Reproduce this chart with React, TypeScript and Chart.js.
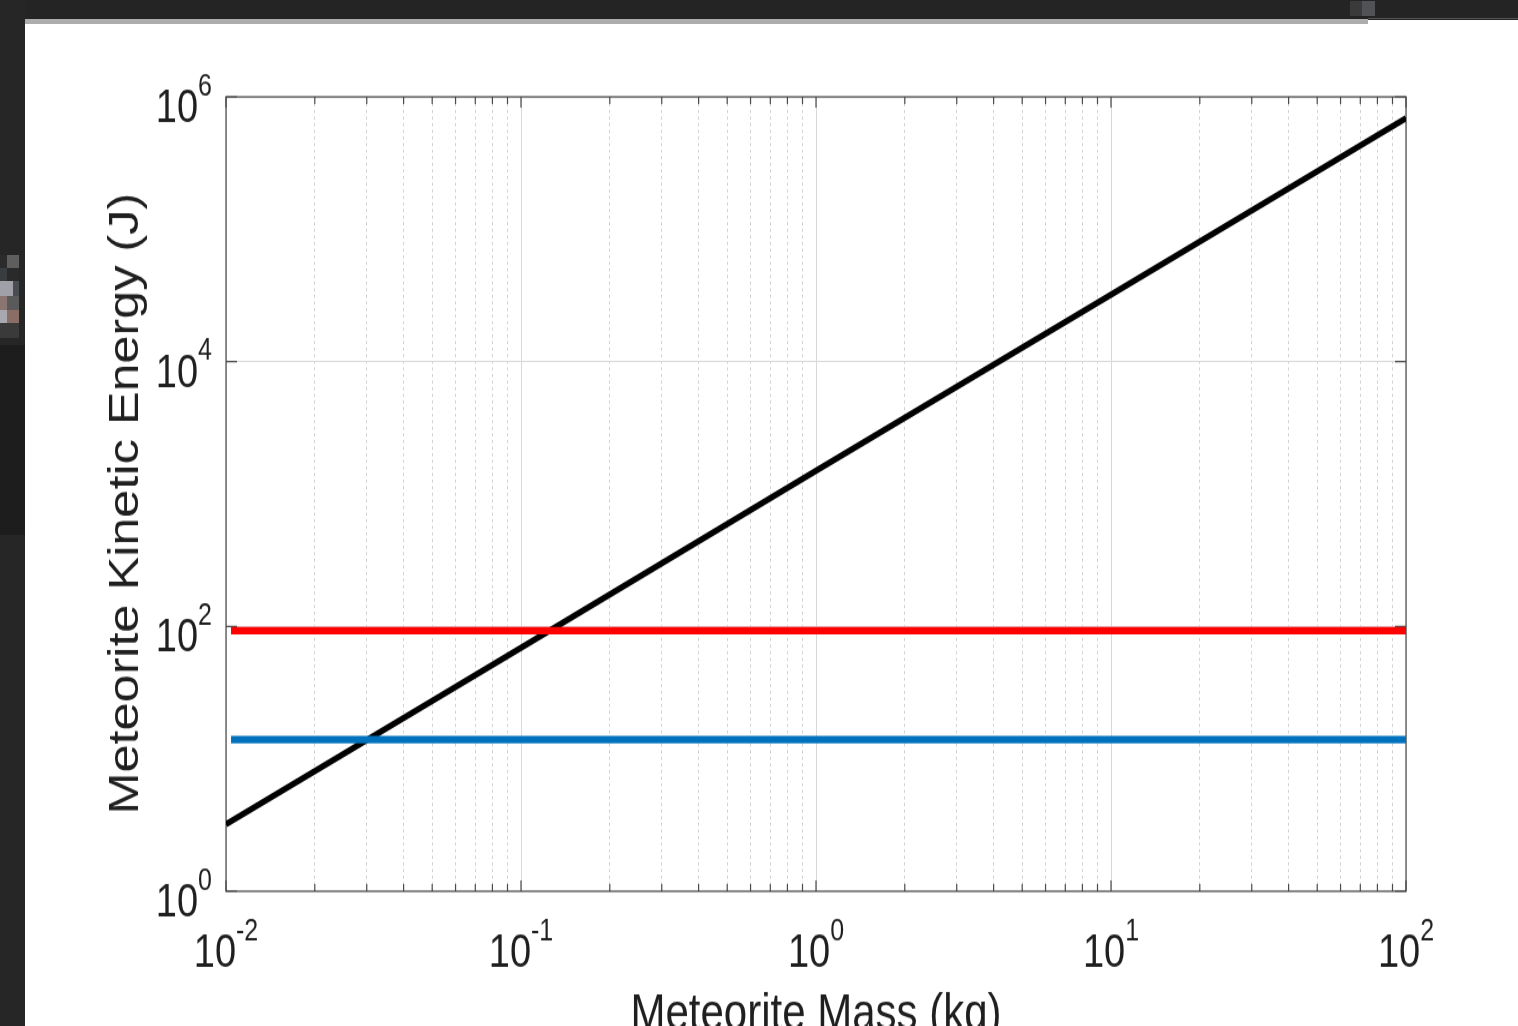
import React, { useEffect, useRef } from 'react';
import { Chart, registerables } from 'chart.js';

Chart.register(...registerables);

// ---- data ----
const massLine = [0.01, 0.1, 1, 10, 100];
const kineticEnergy = [3.2, 69, 1500, 32000, 690000];
const thresholdMass = [0.0104, 100];
const redThreshold = [93, 93];
const blueThreshold = [14, 14];

// ---- axis ticks ----
const xMajorTicks = [0.01, 0.1, 1, 10, 100];
const xMinorMultipliers = [2, 3, 4, 5, 6, 7, 8, 9];
const xTickExponents = ['-2', '-1', '0', '1', '2'];
const yMajorTicks = [1, 100, 10000, 1000000];
const yTickExponents = ['0', '2', '4', '6'];
const xTitle = 'Meteorite Mass (kg)';
const yTitle = 'Meteorite Kinetic Energy (J)';

const xAllTicks: number[] = [...xMajorTicks];
xMajorTicks.slice(0, -1).forEach((m) => xMinorMultipliers.forEach((k) => xAllTicks.push(m * k)));
xAllTicks.sort((a, b) => a - b);

const isXMajor = (v: number) => xMajorTicks.some((m) => Math.abs(v / m - 1) < 1e-6);

const STRETCH = 1.2;
const CW = 1493;
const CH = 838;
const FONT = "'Liberation Sans', Arial, Helvetica, sans-serif";
const TEXT = '#1f1f1f';
const AXIS = '#4a4a4a';

const matlabAxes = {
  id: 'matlabAxes',
  beforeDatasetsDraw(chart: any) {
    const { ctx, chartArea: a, scales } = chart;
    const xs = scales.x;
    const ys = scales.y;
    ctx.save();
    ctx.strokeStyle = AXIS;
    ctx.lineWidth = 1.2;
    ctx.beginPath();
    xAllTicks.forEach((v) => {
      const px = xs.getPixelForValue(v);
      const len = isXMajor(v) ? 9 : 6;
      ctx.moveTo(px, a.bottom);
      ctx.lineTo(px, a.bottom - len);
      ctx.moveTo(px, a.top);
      ctx.lineTo(px, a.top + len);
    });
    yMajorTicks.forEach((v) => {
      const py = ys.getPixelForValue(v);
      ctx.moveTo(a.left, py);
      ctx.lineTo(a.left + 11, py);
      ctx.moveTo(a.right, py);
      ctx.lineTo(a.right - 11, py);
    });
    ctx.stroke();
    ctx.strokeRect(a.left, a.top, a.right - a.left, a.bottom - a.top);
    ctx.restore();
  },
  afterDraw(chart: any) {
    const { ctx, chartArea: a, scales } = chart;
    const xs = scales.x;
    const ys = scales.y;
    const mainFont = `38px ${FONT}`;
    const expFont = `25px ${FONT}`;
    ctx.save();
    ctx.fillStyle = TEXT;
    ctx.textAlign = 'left';
    ctx.textBaseline = 'alphabetic';

    // y tick labels
    yMajorTicks.forEach((v, i) => {
      const py = ys.getPixelForValue(v);
      const base = py + 21;
      ctx.font = expFont;
      const we = ctx.measureText(yTickExponents[i]).width;
      ctx.font = mainFont;
      const wm = ctx.measureText('10').width;
      const right = a.left - 14;
      ctx.fillText('10', right - we - wm, base);
      ctx.font = expFont;
      ctx.fillText(yTickExponents[i], right - we, base - 22.5);
    });

    // x tick labels
    xMajorTicks.forEach((v, i) => {
      const px = xs.getPixelForValue(v);
      const base = a.bottom + 63;
      ctx.font = expFont;
      const we = ctx.measureText(xTickExponents[i]).width;
      ctx.font = mainFont;
      const wm = ctx.measureText('10').width;
      const start = px - (wm + we) / 2;
      ctx.fillText('10', start, base);
      ctx.font = expFont;
      ctx.fillText(xTickExponents[i], start + wm, base - 22.5);
    });

    // axis titles
    ctx.font = `42px ${FONT}`;
    ctx.textAlign = 'center';
    ctx.fillText(xTitle, (a.left + a.right) / 2, a.bottom + 115);

    ctx.translate(113, (a.top + a.bottom) / 2 + 8);
    ctx.rotate(-Math.PI / 2);
    ctx.fillText(yTitle, 0, 0);
    ctx.restore();
  },
};

function toPoints(xv: number[], yv: number[]) {
  return xv.map((x, i) => ({ x, y: yv[i] }));
}

export default function App() {
  const canvasRef = useRef<HTMLCanvasElement | null>(null);

  useEffect(() => {
    document.body.style.margin = '0';
    document.body.style.background = '#242424';
    const canvas = canvasRef.current;
    if (!canvas) return;
    const chart = new Chart(canvas, {
      type: 'scatter',
      data: {
        datasets: [
          {
            label: 'Blue threshold',
            data: toPoints(thresholdMass, blueThreshold),
            showLine: true,
            borderColor: '#0072bd',
            backgroundColor: '#0072bd',
            borderWidth: 6.3,
            pointRadius: 0,
          },
          {
            label: 'Red threshold',
            data: toPoints(thresholdMass, redThreshold),
            showLine: true,
            borderColor: '#ff0000',
            backgroundColor: '#ff0000',
            borderWidth: 6.3,
            pointRadius: 0,
          },
          {
            label: 'Kinetic energy',
            data: toPoints(massLine, kineticEnergy),
            showLine: true,
            borderColor: '#000000',
            backgroundColor: '#000000',
            borderWidth: 5.2,
            pointRadius: 0,
          },
        ],
      },
      options: {
        responsive: false,
        maintainAspectRatio: false,
        animation: false,
        devicePixelRatio: 1,
        events: [],
        layout: { padding: { left: 0, top: 64, right: 112, bottom: 0 } },
        plugins: {
          legend: { display: false },
          tooltip: { enabled: false },
          title: { display: false },
        },
        scales: {
          x: {
            type: 'logarithmic',
            position: 'bottom',
            min: 0.01,
            max: 100,
            afterBuildTicks: (s: any) => {
              s.ticks = xAllTicks.map((value) => ({ value, major: isXMajor(value) }));
            },
            afterFit: (s: any) => {
              s.height = 112;
            },
            ticks: { display: false, autoSkip: false },
            grid: {
              drawTicks: false,
              lineWidth: 1,
              color: (c: any) => (c.tick && isXMajor(c.tick.value) ? '#d8d8d8' : '#cfcfcf'),
            },
            border: {
              display: false,
              dash: (c: any) => (c.tick && isXMajor(c.tick.value) ? [] : [2.5, 3]),
            },
          },
          y: {
            type: 'logarithmic',
            position: 'left',
            min: 1,
            max: 1000000,
            afterBuildTicks: (s: any) => {
              s.ticks = yMajorTicks.map((value) => ({ value, major: true }));
            },
            afterFit: (s: any) => {
              s.width = 201;
            },
            ticks: { display: false, autoSkip: false },
            grid: { drawTicks: false, lineWidth: 1, color: '#d8d8d8' },
            border: { display: false },
          },
        },
      },
      plugins: [matlabAxes],
    } as any);
    return () => chart.destroy();
  }, []);

  const block = (left: number, top: number, w: number, h: number, bg: string) => (
    <div style={{ position: 'absolute', left, top, width: w, height: h, background: bg }} />
  );

  return (
    <div
      style={{
        position: 'fixed',
        left: 0,
        top: 0,
        width: 1518,
        height: 1026,
        overflow: 'hidden',
        background: '#242424',
      }}
    >
      {block(0, 0, 25, 1026, '#262626')}
      {block(0, 345, 25, 190, '#1d1d1d')}
      {block(0, 255, 7, 13, '#2b2b2b')}
      {block(7, 255, 12, 13, '#5e5e5e')}
      {block(0, 268, 7, 13, '#3a3d40')}
      {block(7, 268, 12, 13, '#2a2a2a')}
      {block(0, 281, 13, 15, '#a0a0a8')}
      {block(13, 281, 6, 15, '#4a4d50')}
      {block(0, 296, 7, 14, '#8a7570')}
      {block(7, 296, 12, 14, '#5a5a5a')}
      {block(0, 310, 7, 13, '#a8a8b0')}
      {block(7, 310, 12, 13, '#8a6e66')}
      {block(0, 323, 19, 15, '#3a3a3a')}
      {block(1350, 1, 12, 15, '#3a3a3a')}
      {block(1362, 1, 13, 15, '#505256')}
      {block(1368, 18, 150, 1, '#555555')}
      <div
        style={{
          position: 'absolute',
          left: 25,
          top: 20,
          width: 1493,
          height: 1006,
          background: '#ffffff',
          overflow: 'hidden',
        }}
      >
        <canvas
          ref={canvasRef}
          width={CW}
          height={CH}
          style={{
            position: 'absolute',
            left: 0,
            top: 0,
            display: 'block',
            transform: `scaleY(${STRETCH})`,
            transformOrigin: '0 0',
          }}
        />
      </div>
      {block(25, 19, 1343, 5, '#adadad')}
    </div>
  );
}
